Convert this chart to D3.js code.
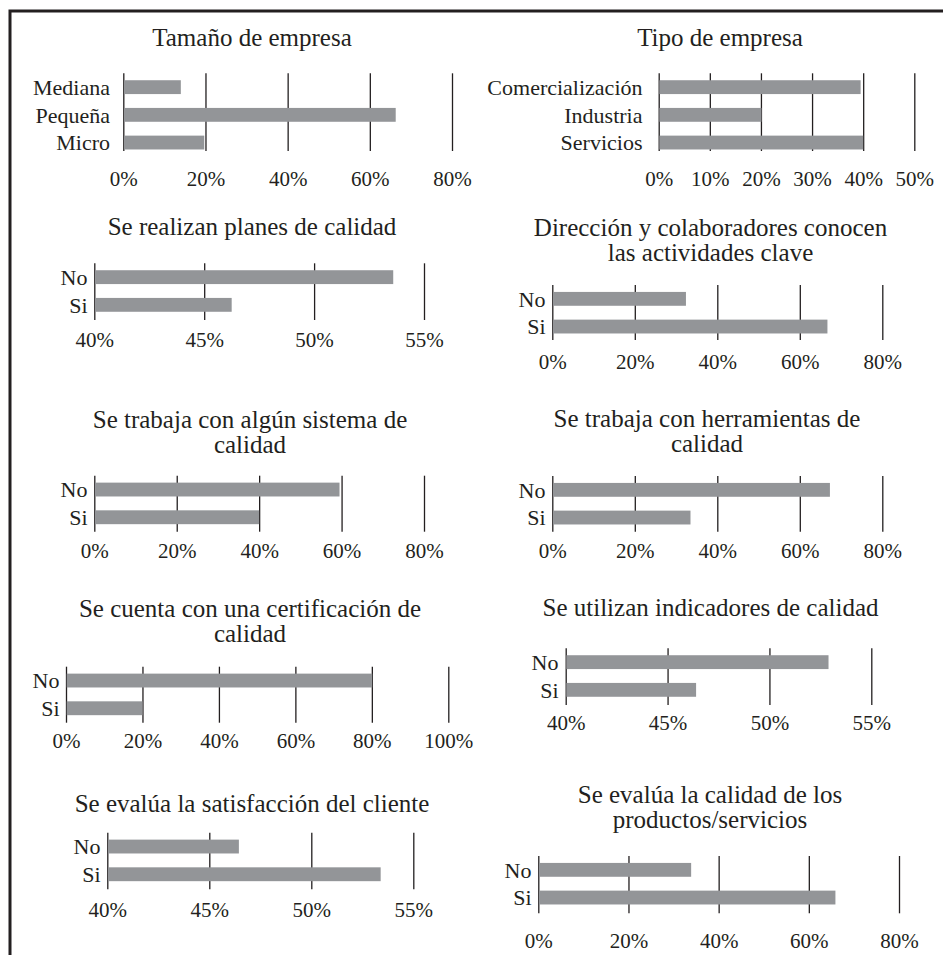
<!DOCTYPE html>
<html lang="es">
<head>
<meta charset="utf-8">
<script src="https://cdn.jsdelivr.net/npm/d3@7"></script>
<style>
  html, body { margin: 0; padding: 0; background: #fff; }
  svg { display: block; }
  text { font-family: "Liberation Serif", "Times New Roman", serif; fill: #231f20; }
</style>
</head>
<body>
<svg id="chart" width="943" height="955"></svg>
<script>
// ---- Data ----
const titleTamano = ["Tamaño de empresa"];
const titleTipo = ["Tipo de empresa"];
const titlePlanes = ["Se realizan planes de calidad"];
const titleActividades = ["Dirección y colaboradores conocen", "las actividades clave"];
const titleSistema = ["Se trabaja con algún sistema de", "calidad"];
const titleHerramientas = ["Se trabaja con herramientas de", "calidad"];
const titleCertificacion = ["Se cuenta con una certificación de", "calidad"];
const titleIndicadores = ["Se utilizan indicadores de calidad"];
const titleSatisfaccion = ["Se evalúa la satisfacción del cliente"];
const titleProductos = ["Se evalúa la calidad de los", "productos/servicios"];

const tamanoCategories = ["Mediana", "Pequeña", "Micro"];
const tamanoValues = [0.14, 0.663, 0.197];

const tipoCategories = ["Comercialización", "Industria", "Servicios"];
const tipoValues = [0.395, 0.201, 0.40];

const siNoCategories = ["No", "Si"];
const planesValues = [0.536, 0.4625];
const actividadesValues = [0.324, 0.667];
const sistemaValues = [0.595, 0.40];
const herramientasValues = [0.673, 0.335];
const certificacionValues = [0.801, 0.20];
const indicadoresValues = [0.529, 0.464];
const satisfaccionValues = [0.4645, 0.534];
const productosValues = [0.339, 0.659];

const ticks0to80 = [0, 0.2, 0.4, 0.6, 0.8];
const ticks0to50 = [0, 0.1, 0.2, 0.3, 0.4, 0.5];
const ticks40to55 = [0.40, 0.45, 0.50, 0.55];
const ticks0to100 = [0, 0.2, 0.4, 0.6, 0.8, 1.0];

// ---- Layout of the ten small charts ----
const panels = [
  { title: titleTamano, cats: tamanoCategories, vals: tamanoValues, ticks: ticks0to80,
    x0: 123.3, x1: 452, gridTop: 73.3, gridBottom: 151, labelRight: 110, titleX: 252, titleY: 46, tickY: 186 },
  { title: titleTipo, cats: tipoCategories, vals: tipoValues, ticks: ticks0to50,
    x0: 658.7, x1: 914.3, gridTop: 73.3, gridBottom: 151, labelRight: 642.5, titleX: 720, titleY: 46, tickY: 186 },
  { title: titlePlanes, cats: siNoCategories, vals: planesValues, ticks: ticks40to55,
    x0: 94.3, x1: 424, gridTop: 263.3, gridBottom: 320, labelRight: 87.5, titleX: 252, titleY: 235, tickY: 347 },
  { title: titleActividades, cats: siNoCategories, vals: actividadesValues, ticks: ticks0to80,
    x0: 552.3, x1: 882.3, gridTop: 285, gridBottom: 340, labelRight: 545.5, titleX: 710.5, titleY: 235.5, tickY: 368.5 },
  { title: titleSistema, cats: siNoCategories, vals: sistemaValues, ticks: ticks0to80,
    x0: 94.3, x1: 424, gridTop: 475.7, gridBottom: 531.7, labelRight: 87.5, titleX: 250, titleY: 428, tickY: 558.5 },
  { title: titleHerramientas, cats: siNoCategories, vals: herramientasValues, ticks: ticks0to80,
    x0: 552.3, x1: 882.3, gridTop: 476, gridBottom: 531.7, labelRight: 545.5, titleX: 707, titleY: 427, tickY: 558.5 },
  { title: titleCertificacion, cats: siNoCategories, vals: certificacionValues, ticks: ticks0to100,
    x0: 66, x1: 448.3, gridTop: 666.7, gridBottom: 722.7, labelRight: 59.5, titleX: 250, titleY: 617, tickY: 748 },
  { title: titleIndicadores, cats: siNoCategories, vals: indicadoresValues, ticks: ticks40to55,
    x0: 565.7, x1: 871.3, gridTop: 648.3, gridBottom: 705, labelRight: 558.5, titleX: 710.5, titleY: 616, tickY: 730 },
  { title: titleSatisfaccion, cats: siNoCategories, vals: satisfaccionValues, ticks: ticks40to55,
    x0: 107.3, x1: 413.3, gridTop: 832.7, gridBottom: 889.3, labelRight: 100.5, titleX: 252, titleY: 812, tickY: 917 },
  { title: titleProductos, cats: siNoCategories, vals: productosValues, ticks: ticks0to80,
    x0: 538.3, x1: 899, gridTop: 856, gridBottom: 913.3, labelRight: 531.5, titleX: 710, titleY: 803, tickY: 948.5 }
];

const BAR_STEP = 27.7;
const TITLE_LINE = 25;
const ink = "#231f20";
const barFill = "#939598";
const pct = d3.format(".0%");

const svg = d3.select("#chart");

// outer frame (top and left rules)
svg.append("path")
  .attr("d", "M10,955 L10,11 L943,11")
  .attr("fill", "none")
  .attr("stroke", ink)
  .attr("stroke-width", 3);

panels.forEach(p => {
  const g = svg.append("g");
  const ticks = p.ticks;
  const x = d3.scaleLinear()
    .domain([ticks[0], ticks[ticks.length - 1]])
    .range([p.x0, p.x1]);
  const y = d3.scaleBand()
    .domain(p.cats)
    .range([p.gridTop, p.gridTop + p.cats.length * BAR_STEP])
    .paddingInner(0.5)
    .paddingOuter(0.25);

  // title
  const t = g.append("text")
    .attr("x", p.titleX)
    .attr("y", p.titleY)
    .attr("text-anchor", "middle")
    .style("font-size", "25px");
  p.title.forEach((line, i) => {
    t.append("tspan")
      .attr("x", p.titleX)
      .attr("dy", i === 0 ? 0 : TITLE_LINE)
      .text(line);
  });

  // vertical gridlines
  const grid = g.append("g")
    .attr("transform", `translate(0,${p.gridBottom})`)
    .call(d3.axisBottom(x).tickValues(ticks).tickFormat("")
      .tickSize(-(p.gridBottom - p.gridTop)));
  grid.select(".domain").remove();
  grid.selectAll(".tick line")
    .attr("stroke", ink)
    .attr("stroke-width", 1.3);

  // bars
  g.selectAll("rect.bar")
    .data(p.cats.map((c, i) => ({ c, v: p.vals[i] })))
    .join("rect")
    .attr("class", "bar")
    .attr("x", x(ticks[0]) + 0.7)
    .attr("y", d => y(d.c))
    .attr("width", d => x(d.v) - x(ticks[0]) - 0.7)
    .attr("height", y.bandwidth())
    .attr("fill", barFill);

  // category labels
  g.selectAll("text.cat")
    .data(p.cats)
    .join("text")
    .attr("class", "cat")
    .attr("x", p.labelRight)
    .attr("y", d => y(d) + y.bandwidth() / 2)
    .attr("dy", "0.36em")
    .attr("text-anchor", "end")
    .style("font-size", "22px")
    .text(d => d);

  // percentage tick labels
  const axis = g.append("g")
    .attr("transform", `translate(0,${p.gridBottom})`)
    .call(d3.axisBottom(x).tickValues(ticks).tickFormat(pct).tickSize(0));
  axis.select(".domain").remove();
  axis.selectAll(".tick text")
    .attr("y", p.tickY - p.gridBottom)
    .attr("dy", 0)
    .attr("fill", ink)
    .style("font-size", "21px")
    .style("font-family", "\"Liberation Serif\", \"Times New Roman\", serif");
});
</script>
</body>
</html>
